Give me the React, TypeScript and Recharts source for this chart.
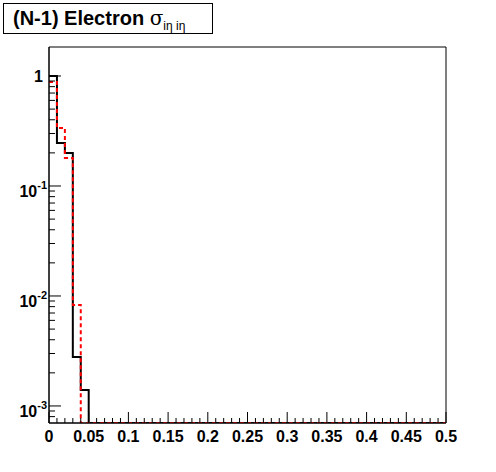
import { LineChart, Line, XAxis, YAxis, ReferenceArea } from 'recharts';

// 50 bins of width 0.01 on [0, 0.5]
const BIN_WIDTH = 0.01;
const blackHist = [
  1.0, 0.246, 0.2, 0.00279, 0.0014, 0, 0, 0, 0, 0,
  0, 0, 0, 0, 0, 0, 0, 0, 0, 0,
  0, 0, 0, 0, 0, 0, 0, 0, 0, 0,
  0, 0, 0, 0, 0, 0, 0, 0, 0, 0,
  0, 0, 0, 0, 0, 0, 0, 0, 0, 0,
];
const redHist = [
  0.882, 0.337, 0.18, 0.0083, 0, 0, 0, 0, 0, 0,
  0, 0, 0, 0, 0, 0, 0, 0, 0, 0,
  0, 0, 0, 0, 0, 0, 0, 0, 0, 0,
  0, 0, 0, 0, 0, 0, 0, 0, 0, 0,
  0, 0, 0, 0, 0, 0, 0, 0, 0, 0,
];
const xTicks = [
  0, 0.01, 0.02, 0.03, 0.04, 0.05, 0.06, 0.07, 0.08, 0.09, 0.1,
  0.11, 0.12, 0.13, 0.14, 0.15, 0.16, 0.17, 0.18, 0.19, 0.2,
  0.21, 0.22, 0.23, 0.24, 0.25, 0.26, 0.27, 0.28, 0.29, 0.3,
  0.31, 0.32, 0.33, 0.34, 0.35, 0.36, 0.37, 0.38, 0.39, 0.4,
  0.41, 0.42, 0.43, 0.44, 0.45, 0.46, 0.47, 0.48, 0.49, 0.5,
];
const yTicks = [
  0.0008, 0.0009, 0.001, 0.002, 0.003, 0.004, 0.005, 0.006, 0.007, 0.008, 0.009,
  0.01, 0.02, 0.03, 0.04, 0.05, 0.06, 0.07, 0.08, 0.09,
  0.1, 0.2, 0.3, 0.4, 0.5, 0.6, 0.7, 0.8, 0.9, 1,
];
const Y_MIN = 0.0007;
const Y_MAX = 1.835;

// empty bins sit on the lower frame, like ROOT does on a log axis
const floor = (v: number) => Math.max(v, Y_MIN);
const table = blackHist.map((b, i) => ({ x: i * BIN_WIDTH, black: floor(b), red: floor(redHist[i]) }));
table.push({
  x: blackHist.length * BIN_WIDTH,
  black: floor(blackHist[blackHist.length - 1]),
  red: floor(redHist[redHist.length - 1]),
});

const FONT = '"Liberation Sans", Arial, Helvetica, sans-serif';

const XTick = (props: any) => {
  const { x, y, payload } = props;
  const major = Math.round(payload.value * 100) % 5 === 0;
  return (
    <g>
      <line x1={x} x2={x} y1={y} y2={y - (major ? 11 : 5)} stroke="#000" strokeWidth={1} />
      {major && (
        <text x={x} y={y + 19} textAnchor="middle" fontFamily={FONT} fontWeight="bold" fontSize={16} fill="#000">
          {String(Math.round(payload.value * 100) / 100)}
        </text>
      )}
    </g>
  );
};

const YTick = (props: any) => {
  const { x, y, payload } = props;
  const lg = Math.log10(payload.value);
  const exp = Math.round(lg);
  const major = Math.abs(lg - exp) < 1e-6;
  return (
    <g>
      <line x1={x} x2={x + (major ? 12 : 6)} y1={y} y2={y} stroke="#000" strokeWidth={1} />
      {major && exp === 0 && (
        <text x={x - 6} y={y + 6} textAnchor="end" fontFamily={FONT} fontWeight="bold" fontSize={16} fill="#000">1</text>
      )}
      {major && exp !== 0 && (
        <text x={x - 2} y={y + 11} textAnchor="end" fontFamily={FONT} fontWeight="bold" fontSize={16} fill="#000">
          10<tspan dy={-8} fontSize={11}>{String(exp)}</tspan>
        </text>
      )}
    </g>
  );
};

export default function App() {
  return (
    <div style={{ position: 'absolute', left: 0, top: 0, width: 496, height: 472, background: '#fff' }}>
      <LineChart width={496} height={472} data={table} margin={{ top: 47, right: 50, bottom: 0, left: 0 }}>
        <XAxis
          dataKey="x"
          type="number"
          domain={[0, 0.5]}
          ticks={xTicks}
          interval={0}
          height={49}
          tickSize={0}
          tickMargin={0}
          tick={<XTick />}
          axisLine={{ stroke: '#000', strokeWidth: 1 }}
        />
        <YAxis
          type="number"
          scale="log"
          domain={[Y_MIN, Y_MAX]}
          allowDataOverflow
          ticks={yTicks}
          interval={0}
          width={49}
          tickSize={0}
          tickMargin={0}
          tick={<YTick />}
          axisLine={{ stroke: '#000', strokeWidth: 1 }}
        />
        <ReferenceArea x1={0} x2={0.5} y1={Y_MIN} y2={Y_MAX} fill="none" stroke="#000" strokeWidth={1} fillOpacity={0} />
        <Line dataKey="black" type="stepAfter" stroke="#000" strokeWidth={2} dot={false} isAnimationActive={false} />
        <Line dataKey="red" type="stepAfter" stroke="#ff0000" strokeWidth={2} strokeDasharray="4 3" dot={false} isAnimationActive={false} />
      </LineChart>
      <svg width={220} height={40} style={{ position: 'absolute', left: 0, top: 0 }}>
        <rect x={3.5} y={3.5} width={209} height={30} fill="#fff" stroke="#000" strokeWidth={1} />
        <text x={13} y={25} fontFamily={FONT} fontSize={20} fill="#000">
          <tspan fontWeight="bold">(N-1) Electron </tspan>
          <tspan fontFamily='"DejaVu Serif", serif' fontSize={20}>σ</tspan>
          <tspan fontSize={12} dy={5}>iη iη</tspan>
        </text>
      </svg>
    </div>
  );
}
